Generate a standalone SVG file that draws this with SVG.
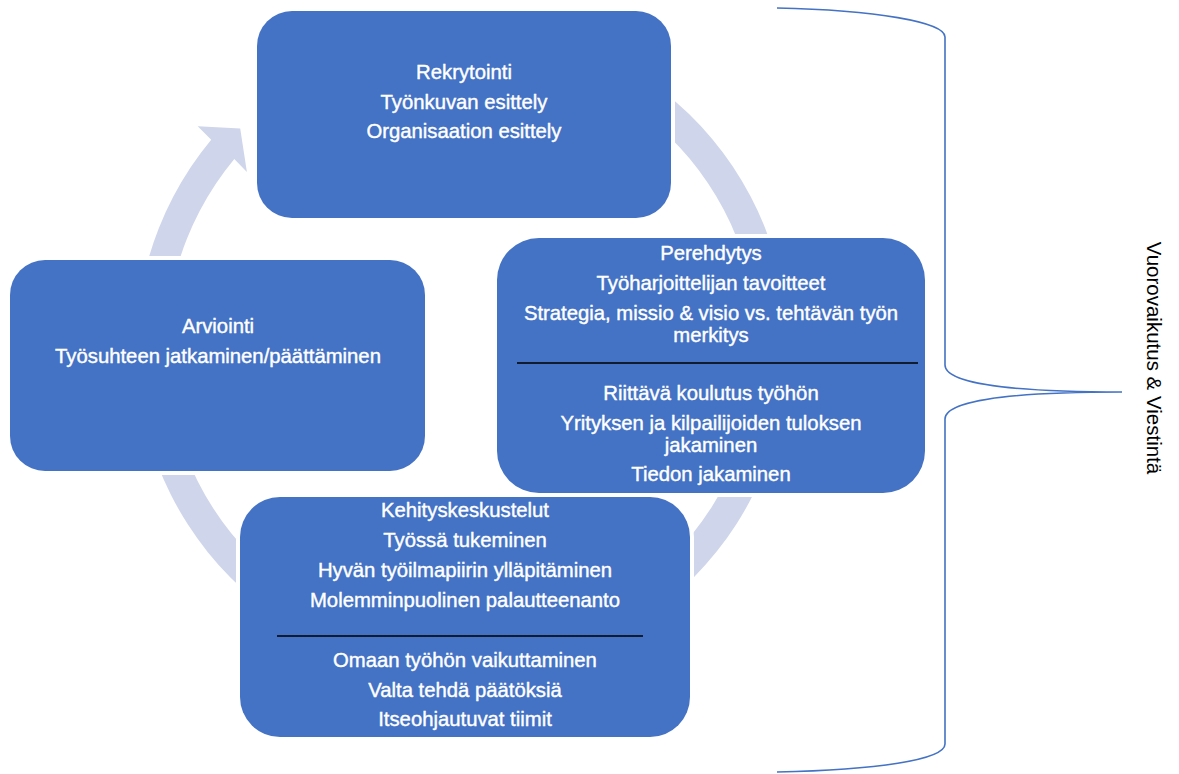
<svg xmlns="http://www.w3.org/2000/svg" width="1179" height="774" viewBox="0 0 1179 774">
<style>
.box{fill:#4472C4;stroke:#ffffff;stroke-width:8;paint-order:stroke}
.t{font-family:"Liberation Sans",Arial,sans-serif;font-size:20.3px;fill:#ffffff;stroke:#ffffff;stroke-width:0.4;text-anchor:middle}
.sep{stroke:#000000;stroke-width:1.6}
.ring{fill:#CFD5EA}
.brace{fill:none;stroke:#4472C4;stroke-width:1.6}
.side{font-family:"Liberation Sans",Arial,sans-serif;font-size:20.5px;fill:#000000;text-anchor:middle}
</style>
<rect width="1179" height="774" fill="#ffffff"/>
<g id="connectors">
<path class="ring" d="M573.5,41.7 A326,326 0 1 1 211.2,139.8 L197.7,126.2 L240.2,128.5 L246.9,171.9 L234.3,158.9 A296,296 0 1 0 563.2,69.8 Z"/>
<path class="brace" d="M777,8 C875,10 945,22 945,37 L945,365 C945,382 1000,392 1122,392 C1000,392 945,402 945,419 L945,744 C945,760 875,770 777,772"/>
</g>
<g id="node-rekrytointi">
<rect class="box" x="257" y="11" width="414" height="207" rx="35" ry="35"/>
<text class="t" x="464" y="79">Rekrytointi</text>
<text class="t" x="464" y="109">Työnkuvan esittely</text>
<text class="t" x="464" y="138">Organisaation esittely</text>
</g>
<g id="node-perehdytys">
<rect class="box" x="497" y="238" width="428" height="255" rx="42" ry="42"/>
<text class="t" x="711" y="260">Perehdytys</text>
<text class="t" x="711" y="290">Työharjoittelijan tavoitteet</text>
<text class="t" x="711" y="320">Strategia, missio &amp; visio vs. tehtävän työn</text>
<text class="t" x="711" y="342">merkitys</text>
<line class="sep" x1="517" y1="363" x2="918" y2="363"/>
<text class="t" x="711" y="400">Riittävä koulutus työhön</text>
<text class="t" x="711" y="430">Yrityksen ja kilpailijoiden tuloksen</text>
<text class="t" x="711" y="452">jakaminen</text>
<text class="t" x="711" y="481">Tiedon jakaminen</text>
</g>
<g id="node-kehityskeskustelut">
<rect class="box" x="240" y="497" width="450" height="240" rx="40" ry="40"/>
<text class="t" x="465" y="517">Kehityskeskustelut</text>
<text class="t" x="465" y="547">Työssä tukeminen</text>
<text class="t" x="465" y="577">Hyvän työilmapiirin ylläpitäminen</text>
<text class="t" x="465" y="607">Molemminpuolinen palautteenanto</text>
<line class="sep" x1="277" y1="636" x2="643" y2="636"/>
<text class="t" x="465" y="667">Omaan työhön vaikuttaminen</text>
<text class="t" x="465" y="697">Valta tehdä päätöksiä</text>
<text class="t" x="465" y="726">Itseohjautuvat tiimit</text>
</g>
<g id="node-arviointi">
<rect class="box" x="10" y="260" width="415" height="211" rx="35" ry="35"/>
<text class="t" x="218" y="333">Arviointi</text>
<text class="t" x="218" y="363">Työsuhteen jatkaminen/päättäminen</text>
</g>
<g id="label-side">
<text class="side" transform="translate(1147,358) rotate(90)">Vuorovaikutus &amp; Viestintä</text>
</g>
</svg>
